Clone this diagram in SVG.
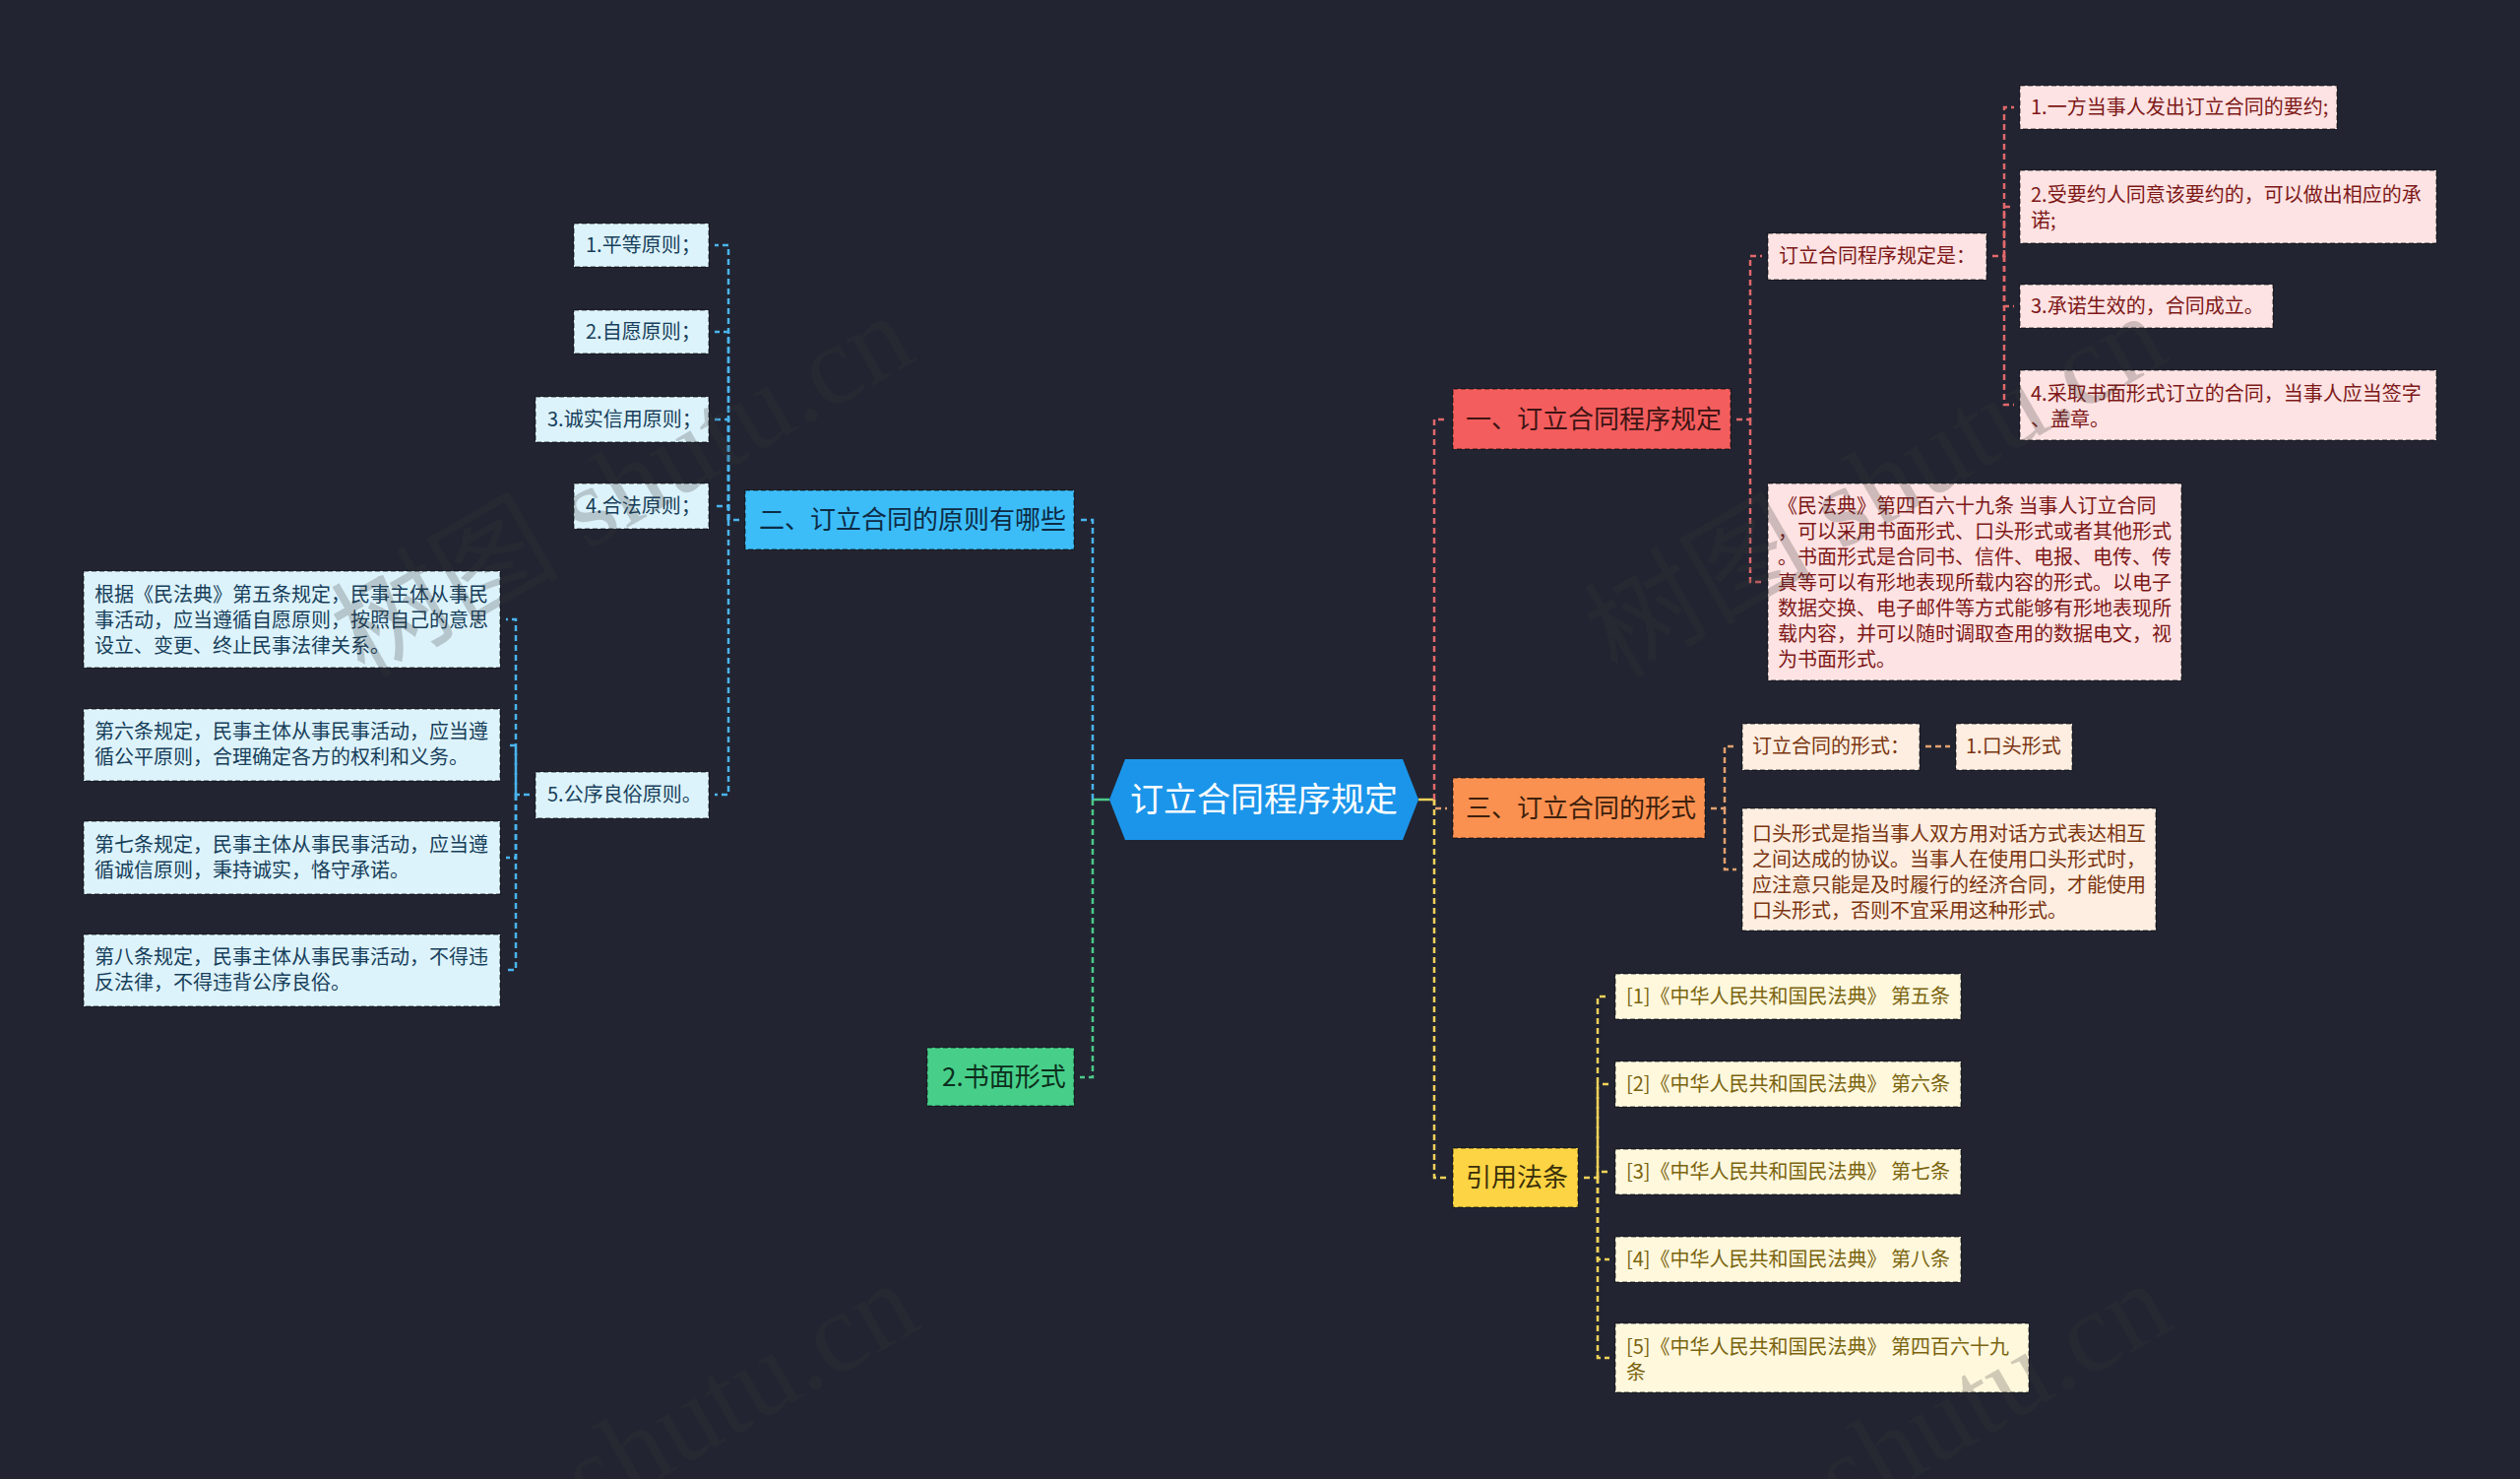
<svg xmlns="http://www.w3.org/2000/svg" width="2560" height="1502" viewBox="0 0 2560 1502">
<style>
.t{font-family:"Noto Sans CJK SC","Microsoft YaHei",sans-serif}
.f1{font-size:26px}
.f2{font-size:20px}
.bx{stroke:#000;stroke-opacity:.45;stroke-width:1.5;stroke-dasharray:5 3}
.c{fill:none;stroke-width:2.5;stroke-dasharray:6 4}
.cr{stroke:#e2686c}.co{stroke:#e3a070}.cy{stroke:#f2d25a}.cb{stroke:#4ab4ee}.cg{stroke:#4cc98a}
.red1{fill:#f45d5d}.org1{fill:#fb9150}.yel1{fill:#fdd443}.blu1{fill:#3cbdf8}.grn1{fill:#47cf8a}
.red2{fill:#fde3e3}.org2{fill:#fdeee1}.yel2{fill:#fff8dd}.blu2{fill:#ddf3fc}
.tr1{fill:#3d1414}.to1{fill:#3d200c}.ty1{fill:#3a2f0a}.tb1{fill:#0d2b45}.tg1{fill:#0c2e1c}
.tr2{fill:#7d1818}.to2{fill:#7a3510}.ty2{fill:#7a640f}.tb2{fill:#173f5a}
.wm{font-family:"Liberation Serif","Noto Sans CJK SC",serif;font-size:116px;fill:#383838;fill-opacity:.24}
</style>
<rect x="0" y="0" width="2560" height="1502" fill="#222531"/>

<g id="connectors">
  <path d="M1127,812 H1110" fill="none" stroke="#4cc98a" stroke-width="2.5"/>
  <path d="M1441,812 H1457" fill="none" stroke="#f2d25a" stroke-width="2.5"/>
  <path class="c cb" d="M1110,812 V528 H1097"/>
  <path class="c cg" d="M1110,812 V1094 H1097"/>
  <path class="c cr" d="M1457,812 V426 H1470"/>
  <path class="c co" d="M1457,812 V821 H1470"/>
  <path class="c cy" d="M1457,812 V1196 H1470"/>
  <path class="c cr" d="M1764,426 H1778 V260 H1790"/>
  <path class="c cr" d="M1778,426 V591 H1790"/>
  <path class="c cr" d="M2024,260 H2036 V109 H2046"/>
  <path class="c cr" d="M2036,260 V210 H2046"/>
  <path class="c cr" d="M2036,260 V311 H2046"/>
  <path class="c cr" d="M2036,260 V411 H2046"/>
  <path class="c co" d="M1738,821 H1752 V758 H1764"/>
  <path class="c co" d="M1752,821 V883 H1764"/>
  <path class="c co" d="M1956,758 H1981"/>
  <path class="c cy" d="M1609,1196 H1623 V1012 H1635"/>
  <path class="c cy" d="M1623,1196 V1101 H1635"/>
  <path class="c cy" d="M1623,1196 V1190 H1635"/>
  <path class="c cy" d="M1623,1196 V1279 H1635"/>
  <path class="c cy" d="M1623,1196 V1379 H1635"/>
  <path class="c cb" d="M751,528 H740 V249 H726"/>
  <path class="c cb" d="M740,528 V337 H726"/>
  <path class="c cb" d="M740,528 V426 H726"/>
  <path class="c cb" d="M740,528 V514 H726"/>
  <path class="c cb" d="M740,528 V807 H726"/>
  <path class="c cb" d="M538,807 H524 V629 H514"/>
  <path class="c cb" d="M524,807 V757 H514"/>
  <path class="c cb" d="M524,807 V871 H514"/>
  <path class="c cb" d="M524,807 V985 H514"/>
</g>

<g id="root">
  <polygon points="1127,812 1143,771 1425,771 1441,812 1425,853 1143,853" fill="#1b95ea"/>
  <text class="t" x="1284" y="824" font-size="34" fill="#ffffff" text-anchor="middle">订立合同程序规定</text>
</g>

<g id="n-red1">
  <rect class="bx red1" x="1476" y="395" width="282" height="61"/>
  <text class="t f1 tr1" x="1489" y="435">一、订立合同程序规定</text>
</g>
<g id="n-org1">
  <rect class="bx org1" x="1476" y="790" width="256" height="61"/>
  <text class="t f1 to1" x="1489" y="830">三、订立合同的形式</text>
</g>
<g id="n-yel1">
  <rect class="bx yel1" x="1476" y="1166" width="127" height="60"/>
  <text class="t f1 ty1" x="1489" y="1205">引用法条</text>
</g>
<g id="n-blu1">
  <rect class="bx blu1" x="757" y="498" width="334" height="60"/>
  <text class="t f1 tb1" x="771" y="537">二、订立合同的原则有哪些</text>
</g>
<g id="n-grn1">
  <rect class="bx grn1" x="942" y="1064" width="149" height="59"/>
  <text class="t f1 tg1" x="957" y="1103">2.书面形式</text>
</g>

<g id="n-r-a">
  <rect class="bx red2" x="1796" y="237" width="222" height="47"/>
  <text class="t f2 tr2" x="1807" y="267">订立合同程序规定是：</text>
</g>
<g id="n-r-b">
  <rect class="bx red2" x="1796" y="491" width="420" height="200"/>
  <text class="t f2 tr2">
    <tspan x="1806" y="521">《民法典》第四百六十九条 当事人订立合同</tspan>
    <tspan x="1806" y="547">，可以采用书面形式、口头形式或者其他形式</tspan>
    <tspan x="1806" y="573">。书面形式是合同书、信件、电报、电传、传</tspan>
    <tspan x="1806" y="599">真等可以有形地表现所载内容的形式。以电子</tspan>
    <tspan x="1806" y="625">数据交换、电子邮件等方式能够有形地表现所</tspan>
    <tspan x="1806" y="651">载内容，并可以随时调取查用的数据电文，视</tspan>
    <tspan x="1806" y="677">为书面形式。</tspan>
  </text>
</g>
<g id="n-r-1">
  <rect class="bx red2" x="2052" y="87" width="322" height="44"/>
  <text class="t f2 tr2" x="2063" y="116">1.一方当事人发出订立合同的要约;</text>
</g>
<g id="n-r-2">
  <rect class="bx red2" x="2052" y="173" width="423" height="74"/>
  <text class="t f2 tr2">
    <tspan x="2063" y="205">2.受要约人同意该要约的，可以做出相应的承</tspan>
    <tspan x="2063" y="231">诺;</tspan>
  </text>
</g>
<g id="n-r-3">
  <rect class="bx red2" x="2052" y="289" width="257" height="44"/>
  <text class="t f2 tr2" x="2063" y="318">3.承诺生效的，合同成立。</text>
</g>
<g id="n-r-4">
  <rect class="bx red2" x="2052" y="376" width="423" height="71"/>
  <text class="t f2 tr2">
    <tspan x="2063" y="407">4.采取书面形式订立的合同，当事人应当签字</tspan>
    <tspan x="2063" y="433">、盖章。</tspan>
  </text>
</g>

<g id="n-o-a">
  <rect class="bx org2" x="1770" y="735" width="180" height="47"/>
  <text class="t f2 to2" x="1780" y="765">订立合同的形式：</text>
</g>
<g id="n-o-a1">
  <rect class="bx org2" x="1987" y="735" width="118" height="47"/>
  <text class="t f2 to2" x="1997" y="765">1.口头形式</text>
</g>
<g id="n-o-b">
  <rect class="bx org2" x="1770" y="821" width="420" height="124"/>
  <text class="t f2 to2">
    <tspan x="1780" y="854">口头形式是指当事人双方用对话方式表达相互</tspan>
    <tspan x="1780" y="880">之间达成的协议。当事人在使用口头形式时，</tspan>
    <tspan x="1780" y="906">应注意只能是及时履行的经济合同，才能使用</tspan>
    <tspan x="1780" y="932">口头形式，否则不宜采用这种形式。</tspan>
  </text>
</g>

<g id="n-y-1">
  <rect class="bx yel2" x="1641" y="989" width="351" height="46"/>
  <text class="t f2 ty2" x="1652" y="1019">[1]《中华人民共和国民法典》 第五条</text>
</g>
<g id="n-y-2">
  <rect class="bx yel2" x="1641" y="1078" width="351" height="46"/>
  <text class="t f2 ty2" x="1652" y="1108">[2]《中华人民共和国民法典》 第六条</text>
</g>
<g id="n-y-3">
  <rect class="bx yel2" x="1641" y="1167" width="351" height="46"/>
  <text class="t f2 ty2" x="1652" y="1197">[3]《中华人民共和国民法典》 第七条</text>
</g>
<g id="n-y-4">
  <rect class="bx yel2" x="1641" y="1256" width="351" height="46"/>
  <text class="t f2 ty2" x="1652" y="1286">[4]《中华人民共和国民法典》 第八条</text>
</g>
<g id="n-y-5">
  <rect class="bx yel2" x="1641" y="1344" width="420" height="70"/>
  <text class="t f2 ty2">
    <tspan x="1652" y="1375">[5]《中华人民共和国民法典》 第四百六十九</tspan>
    <tspan x="1652" y="1401">条</tspan>
  </text>
</g>

<g id="n-b-1">
  <rect class="bx blu2" x="583" y="227" width="137" height="44"/>
  <text class="t f2 tb2" x="595" y="256">1.平等原则；</text>
</g>
<g id="n-b-2">
  <rect class="bx blu2" x="583" y="315" width="137" height="44"/>
  <text class="t f2 tb2" x="595" y="344">2.自愿原则；</text>
</g>
<g id="n-b-3">
  <rect class="bx blu2" x="544" y="403" width="176" height="46"/>
  <text class="t f2 tb2" x="556" y="433">3.诚实信用原则；</text>
</g>
<g id="n-b-4">
  <rect class="bx blu2" x="583" y="491" width="137" height="46"/>
  <text class="t f2 tb2" x="595" y="521">4.合法原则；</text>
</g>
<g id="n-b-5">
  <rect class="bx blu2" x="544" y="784" width="176" height="47"/>
  <text class="t f2 tb2" x="556" y="814">5.公序良俗原则。</text>
</g>

<g id="n-b-5a">
  <rect class="bx blu2" x="85" y="580" width="423" height="98"/>
  <text class="t f2 tb2">
    <tspan x="96" y="611">根据《民法典》第五条规定，民事主体从事民</tspan>
    <tspan x="96" y="637">事活动，应当遵循自愿原则，按照自己的意思</tspan>
    <tspan x="96" y="663">设立、变更、终止民事法律关系。</tspan>
  </text>
</g>
<g id="n-b-5b">
  <rect class="bx blu2" x="85" y="720" width="423" height="73"/>
  <text class="t f2 tb2">
    <tspan x="96" y="750">第六条规定，民事主体从事民事活动，应当遵</tspan>
    <tspan x="96" y="776">循公平原则，合理确定各方的权利和义务。</tspan>
  </text>
</g>
<g id="n-b-5c">
  <rect class="bx blu2" x="85" y="834" width="423" height="74"/>
  <text class="t f2 tb2">
    <tspan x="96" y="865">第七条规定，民事主体从事民事活动，应当遵</tspan>
    <tspan x="96" y="891">循诚信原则，秉持诚实，恪守承诺。</tspan>
  </text>
</g>
<g id="n-b-5d">
  <rect class="bx blu2" x="85" y="949" width="423" height="73"/>
  <text class="t f2 tb2">
    <tspan x="96" y="979">第八条规定，民事主体从事民事活动，不得违</tspan>
    <tspan x="96" y="1005">反法律，不得违背公序良俗。</tspan>
  </text>
</g>

<g id="watermark">
  <text class="wm" transform="translate(370,690) rotate(-30)">树图 shutu.cn</text>
  <text class="wm" transform="translate(1643,690) rotate(-30)">树图 shutu.cn</text>
  <text class="wm" transform="translate(601,1542) rotate(-30)">shutu.cn</text>
  <text class="wm" transform="translate(1874,1542) rotate(-30)">shutu.cn</text>
</g>
</svg>
